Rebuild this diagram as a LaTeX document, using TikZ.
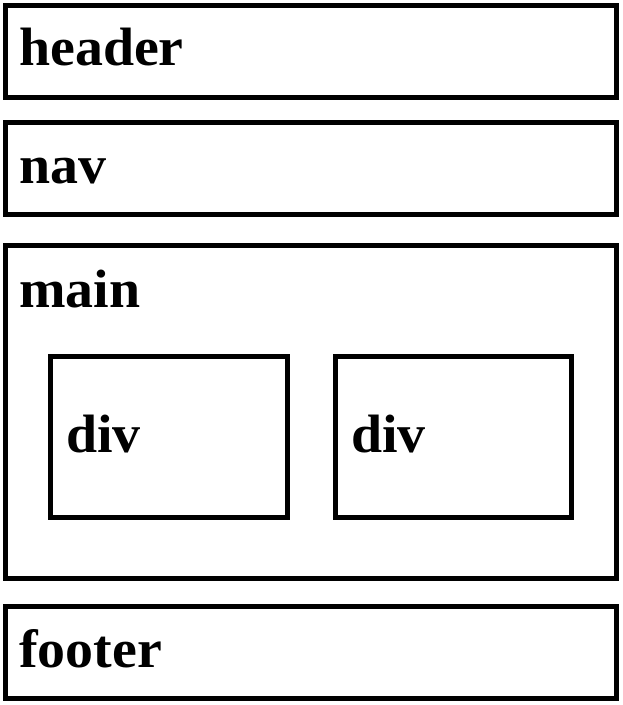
\documentclass[tikz,border=0pt]{standalone}
\usepackage{fontspec}
\setmainfont{Liberation Serif}[FakeStretch=1.035]
\begin{document}
\begin{tikzpicture}[x=1pt,y=-1pt,
  box/.style={draw=black,line width=5.5pt,inner sep=0pt,outer sep=0pt,anchor=north west},
  lbl/.style={inner sep=0pt,anchor=base west,font=\fontsize{54}{60}\selectfont\bfseries}]
\useasboundingbox (0,0) rectangle (622,705);
\node[box,minimum width=611pt,minimum height=92pt] (header) at (5.5,5.5) {};
\node[box,minimum width=611pt,minimum height=92pt] (nav) at (5.5,122.5) {};
\node[box,minimum width=611pt,minimum height=333pt] (main) at (5.5,245.5) {};
\node[box,minimum width=237pt,minimum height=161pt] (div1) at (50.5,356.5) {};
\node[box,minimum width=236pt,minimum height=161pt] (div2) at (335.5,356.5) {};
\node[box,minimum width=611pt,minimum height=92pt] (footer) at (5.5,606.5) {};
\node[lbl] (theader) at (19,65) {header};
\node[lbl] (tnav) at (19,183) {nav};
\node[lbl] (tmain) at (19,307) {main};
\node[lbl] (tdiv1) at (66,452) {div};
\node[lbl] (tdiv2) at (351,452) {div};
\node[lbl] (tfooter) at (19,667) {footer};
\end{tikzpicture}
\end{document}
